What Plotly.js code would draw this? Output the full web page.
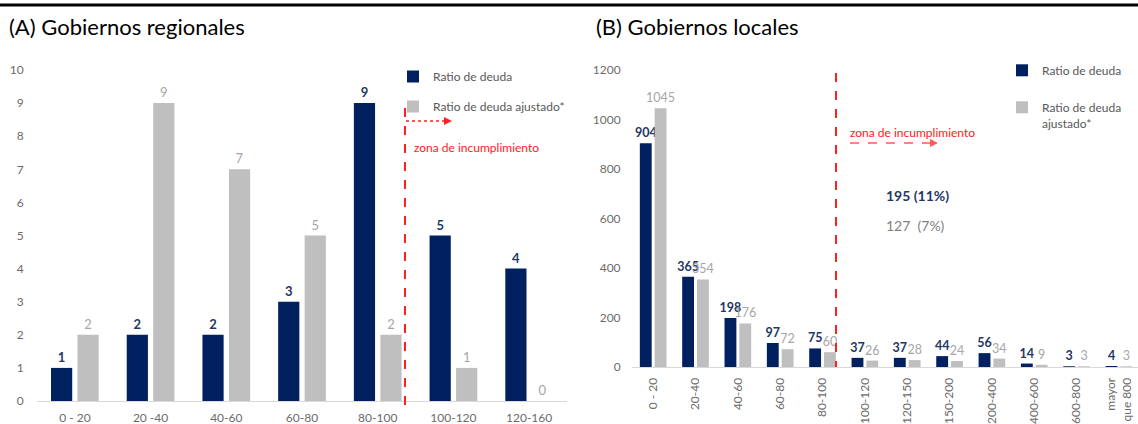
<!DOCTYPE html>
<html><head><meta charset="utf-8">
<script src="https://cdn.plot.ly/plotly-3.0.1.min.js"></script>
<style>html,body{margin:0;padding:0;background:#fff}#chart{width:1138px;height:424px}</style>
</head><body><div id="chart"></div>
<script>
// ---- data ----
const catsA = ['0 - 20','20 -40','40-60','60-80','80-100','100-120','120-160'];
const deudaA = [1,2,2,3,9,5,4];
const ajustA = [2,9,7,5,2,1,0];
const catsB = ['0 - 20','20-40','40-60','60-80','80-100','100-120','120-150','150-200','200-400','400-600','600-800','mayor<br>que 800'];
const deudaB = [904,365,198,97,75,37,37,44,56,14,3,4];
const ajustB = [1045,354,176,72,60,26,28,24,34,9,3,3];
const seriesNames = ['Ratio de deuda','Ratio de deuda ajustado*','Ratio de deuda<br>ajustado*'];
const titleA = '(A) Gobiernos regionales';
const titleB = '(B) Gobiernos locales';
const zonaText = 'zona de incumplimiento';
const totDeuda = '195 (11%)';
const totAjust = '127  (7%)';

// ---- style ----
const W = 1138, H = 424;
const X = px => px / W;
const Y = py => 1 - py / H;
const NAVY = '#002060', GREY = '#bfbfbf', NAVYT = '#1f3864', GREYT = '#a6a6a6', RED = '#ff2020';
const FONT = 'Lato, "Open Sans", sans-serif';
const tickFont = {family: FONT, size: 12, color: '#6b6b6b'};

const common = {type:'bar', textposition:'outside', cliponaxis:false, constraintext:'none', textangle:0};
const traces = [
  Object.assign({}, common, {x:catsA, y:deudaA, name:seriesNames[0], xaxis:'x', yaxis:'y', marker:{color:NAVY},
   text:deudaA.map(String), textfont:{family:FONT, size:13, color:NAVYT, weight:700}, legend:'legend', legendgroup:'a1'}),
  Object.assign({}, common, {x:catsA, y:ajustA, name:seriesNames[1], xaxis:'x', yaxis:'y', marker:{color:GREY},
   text:ajustA.map(String), textfont:{family:FONT, size:13, color:GREYT}, legend:'legend', legendgroup:'a2'}),
  Object.assign({}, common, {x:catsB, y:deudaB, name:seriesNames[0], xaxis:'x2', yaxis:'y2', marker:{color:NAVY},
   text:deudaB.map(String), textfont:{family:FONT, size:12.5, color:NAVYT, weight:700}, legend:'legend2', legendgroup:'b1'}),
  Object.assign({}, common, {x:catsB, y:ajustB, name:seriesNames[2], xaxis:'x2', yaxis:'y2', marker:{color:GREY},
   text:ajustB.map(String), textfont:{family:FONT, size:12.5, color:GREYT}, legend:'legend2', legendgroup:'b2'})
];

const layout = {
  width: W, height: H,
  margin: {l:0, r:0, t:0, b:0},
  paper_bgcolor: '#fff', plot_bgcolor: '#fff',
  barmode: 'group', bargap: 0.3, bargroupgap: 0.2,
  font: {family: FONT},
  xaxis: {domain:[X(37), X(567)], anchor:'y', type:'category', showgrid:false, zeroline:false,
          showline:true, linecolor:'#d9d9d9', linewidth:1, ticks:'outside', ticklen:6, tickcolor:'rgba(0,0,0,0)',
          tickfont:tickFont, fixedrange:true},
  yaxis: {domain:[Y(401), Y(70)], anchor:'x', range:[0,10], dtick:1, showgrid:false, zeroline:false,
          showline:false, ticks:'outside', ticklen:10, tickcolor:'rgba(0,0,0,0)', tickfont:tickFont},
  xaxis2: {domain:[X(632), 1], anchor:'y2', type:'category', range:[-0.5, 11.45], showgrid:false, zeroline:false,
          showline:true, linecolor:'#d9d9d9', linewidth:1, ticks:'outside', ticklen:5, tickcolor:'rgba(0,0,0,0)',
          tickangle:-90, tickfont:tickFont},
  yaxis2: {domain:[Y(367), Y(70)], anchor:'x2', range:[0,1200], dtick:200, showgrid:false, zeroline:false,
          showline:false, ticks:'outside', ticklen:8, tickcolor:'rgba(0,0,0,0)', tickfont:tickFont},
  legend: {x:X(393), y:Y(62), xanchor:'left', yanchor:'top', bgcolor:'rgba(0,0,0,0)',
           font:{family:FONT, size:12, color:'#595959'}, tracegroupgap:11, traceorder:'grouped'},
  legend2: {x:X(1002), y:Y(56), xanchor:'left', yanchor:'top', bgcolor:'rgba(0,0,0,0)', valign:'top',
           font:{family:FONT, size:12, color:'#595959'}, tracegroupgap:18, traceorder:'grouped'},
  shapes: [
    {type:'line', xref:'paper', yref:'paper', x0:0, x1:1, y0:Y(5), y1:Y(5), line:{color:'#000', width:3}},
    // left threshold
    {type:'line', xref:'paper', yref:'paper', x0:X(405), x1:X(405), y0:Y(108), y1:Y(408), line:{color:RED, width:2, dash:'dash'}},
    {type:'line', xref:'paper', yref:'paper', x0:X(406), x1:X(445), y0:Y(121), y1:Y(121), line:{color:RED, width:1.5, dash:'dot'}},
    {type:'path', xref:'paper', yref:'paper', path:`M ${X(444)},${Y(117)} L ${X(452)},${Y(121)} L ${X(444)},${Y(125)} Z`, fillcolor:RED, line:{width:0}},
    // right threshold
    {type:'line', xref:'paper', yref:'paper', x0:X(836), x1:X(836), y0:Y(73), y1:Y(367), line:{color:RED, width:2, dash:'dash'}},
    {type:'line', xref:'paper', yref:'paper', x0:X(850), x1:X(930), y0:Y(143), y1:Y(143), line:{color:'#ff5a5a', width:1.5, dash:'dash'}},
    {type:'path', xref:'paper', yref:'paper', path:`M ${X(930)},${Y(139)} L ${X(938)},${Y(143)} L ${X(930)},${Y(147)} Z`, fillcolor:'#ff5a5a', line:{width:0}}
  ],
  annotations: [
    {text:titleA, xref:'paper', yref:'paper', x:X(7), y:Y(27), xanchor:'left', yanchor:'middle', showarrow:false,
     font:{family:FONT, size:22, color:'#000'}},
    {text:titleB, xref:'paper', yref:'paper', x:X(594), y:Y(27), xanchor:'left', yanchor:'middle', showarrow:false,
     font:{family:FONT, size:22, color:'#000'}},
    {text:zonaText, xref:'paper', yref:'paper', x:X(412), y:Y(147), xanchor:'left', yanchor:'middle', showarrow:false,
     font:{family:FONT, size:12, color:RED}},
    {text:zonaText, xref:'paper', yref:'paper', x:X(848), y:Y(133), xanchor:'left', yanchor:'middle', showarrow:false,
     font:{family:FONT, size:12, color:RED}},
    {text:totDeuda, xref:'paper', yref:'paper', x:X(884), y:Y(195), xanchor:'left', yanchor:'middle', showarrow:false,
     font:{family:FONT, size:14, color:NAVYT, weight:700}},
    {text:totAjust, xref:'paper', yref:'paper', x:X(884), y:Y(225), xanchor:'left', yanchor:'middle', showarrow:false,
     font:{family:FONT, size:14, color:'#7f7f7f'}}
  ]
};

Plotly.newPlot('chart', traces, layout, {displayModeBar:false, staticPlot:true});
</script></body></html>
